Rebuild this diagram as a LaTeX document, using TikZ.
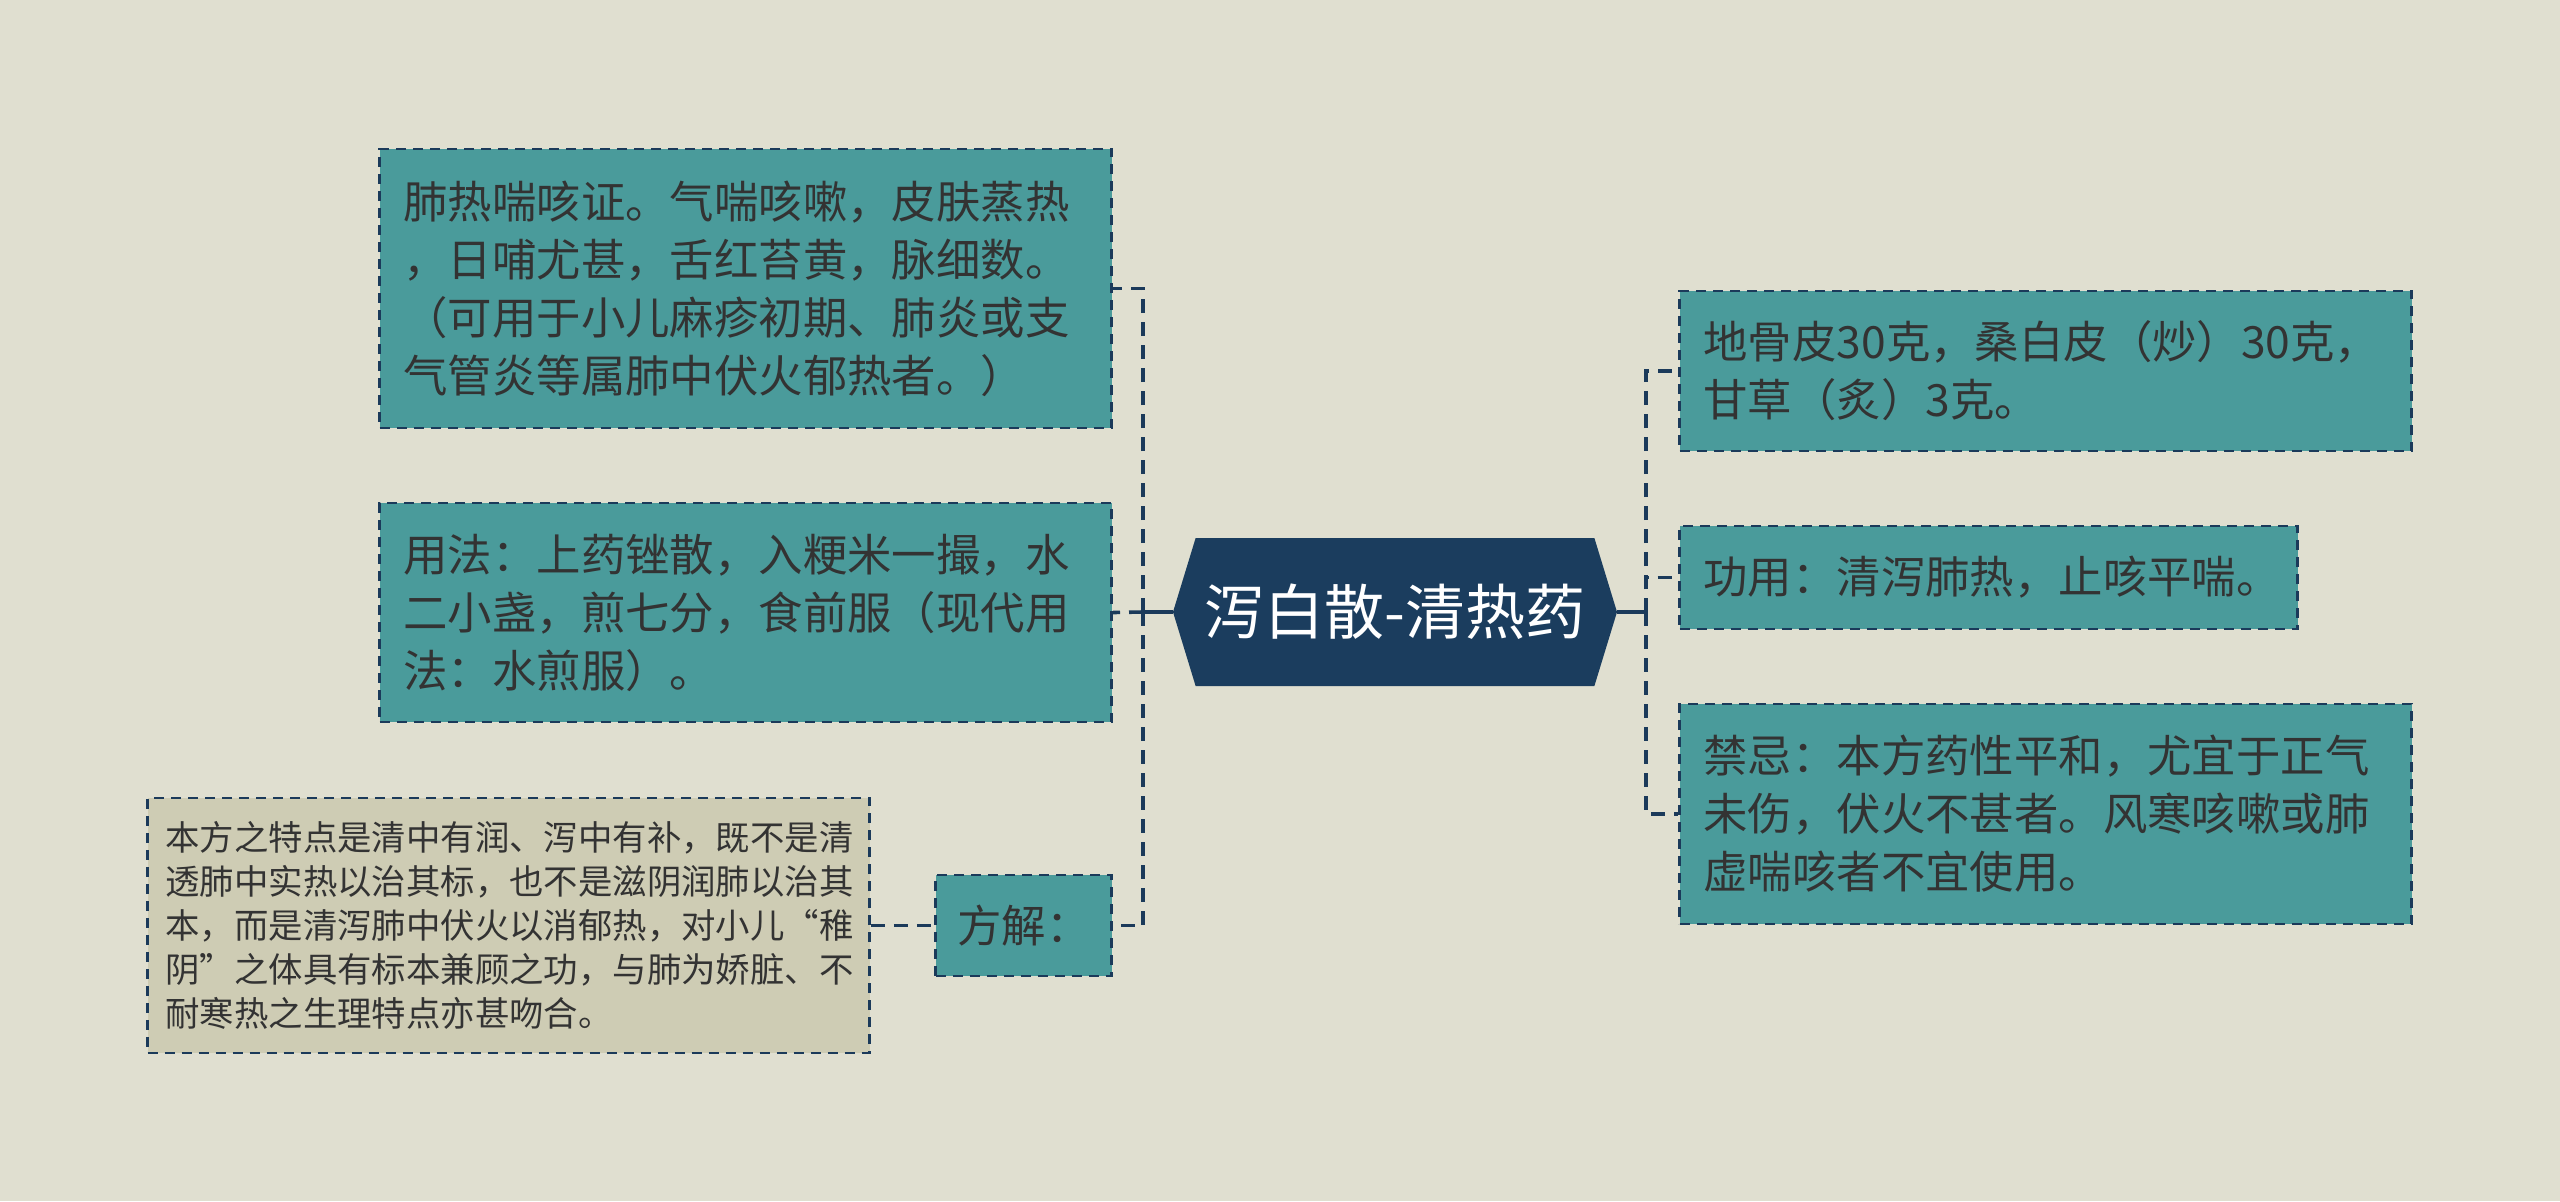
\documentclass[tikz,border=0pt]{standalone}
\usepackage{fontspec}
\setmainfont{Noto Sans CJK SC}
\usetikzlibrary{shapes.symbols,positioning}
\definecolor{bgc}{HTML}{E0DFD0}
\definecolor{leafc}{HTML}{4A9B9B}
\definecolor{notec}{HTML}{CECCB4}
\definecolor{rootc}{HTML}{1B3D5E}
\definecolor{edgec}{HTML}{1B3A5A}
\definecolor{txtc}{HTML}{333333}

\begin{document}
\begin{tikzpicture}[x=0.5pt,y=-0.5pt,
  box/.style={draw=edgec,line width=1.3pt,dash pattern=on 5pt off 3.5pt,text=txtc,align=left,
    inner xsep=12pt,font=\fontsize{22.2}{29}\selectfont},
  leaf/.style={box,fill=leafc},
  note/.style={box,fill=notec,inner xsep=9pt,font=\fontsize{17.2}{22}\selectfont},
  link/.style={draw=edgec,line width=1.8pt,dash pattern=on 7pt off 4.5pt},
  stem/.style={draw=edgec,line width=1.8pt}]
  \fill[bgc] (0,0) rectangle (2560,1201);
  \useasboundingbox (0,0) rectangle (2560,1201);

  \node[signal,signal to=west and east,signal pointer angle=146,fill=rootc,text=white,
    minimum width=222pt,minimum height=74pt,inner sep=0pt,font=\fontsize{30}{36}\selectfont]
    (root) at (1395,612) {泻白散-清热药};

  % left side
  \node[leaf,text width=342pt,minimum height=139.5pt] (zheng) at (745.5,288.5)
    {肺热喘咳证。气喘咳嗽，皮肤蒸热\\，日哺尤甚，舌红苔黄，脉细数。\\（可用于小儿麻疹初期、肺炎或支\\气管炎等属肺中伏火郁热者。）};
  \node[leaf,text width=342pt,minimum height=109.5pt] (yongfa) at (745.5,612.5)
    {用法：上药锉散，入粳米一撮，水\\二小盏，煎七分，食前服（现代用\\法：水煎服）。};
  \node[leaf,text width=66pt,inner xsep=11pt,minimum height=50.5pt] (fangjie) at (1023.5,925.5) {方解：};
  \node[note,text width=343pt,minimum height=127.5pt] (tedian) at (508.5,925.5)
    {本方之特点是清中有润、泻中有补，既不是清\\透肺中实热以治其标，也不是滋阴润肺以治其\\本，而是清泻肺中伏火以消郁热，对小儿“稚\\阴”之体具有标本兼顾之功，与肺为娇脏、不\\耐寒热之生理特点亦甚吻合。};

  % right side
  \node[leaf,text width=342pt,minimum height=80pt] (zucheng) at (2045.5,371)
    {地骨皮30克，桑白皮（炒）30克，\\甘草（炙）3克。};
  \node[leaf,text width=285pt,minimum height=51.5pt] (gongyong) at (1988.5,577.5)
    {功用：清泻肺热，止咳平喘。};
  \node[leaf,text width=342pt,minimum height=110pt] (jinji) at (2045.5,814)
    {禁忌：本方药性平和，尤宜于正气\\未伤，伏火不甚者。风寒咳嗽或肺\\虚喘咳者不宜使用。};

  \coordinate (lj) at (1143,612);
  \coordinate (rj) at (1646,612);
  \draw[stem] (root.west) -- (lj);
  \draw[stem] (root.east) -- (rj);
  \draw[link] (lj) |- (zheng.east);
  \draw[link] (lj) -- (yongfa.east);
  \draw[link] (lj) |- (fangjie.east);
  \draw[link] (tedian.east) -- (fangjie.west);
  \draw[link] (rj) |- (zucheng.west);
  \draw[link] (rj) |- (gongyong.west);
  \draw[link] (rj) |- (jinji.west);
\end{tikzpicture}
\end{document}
